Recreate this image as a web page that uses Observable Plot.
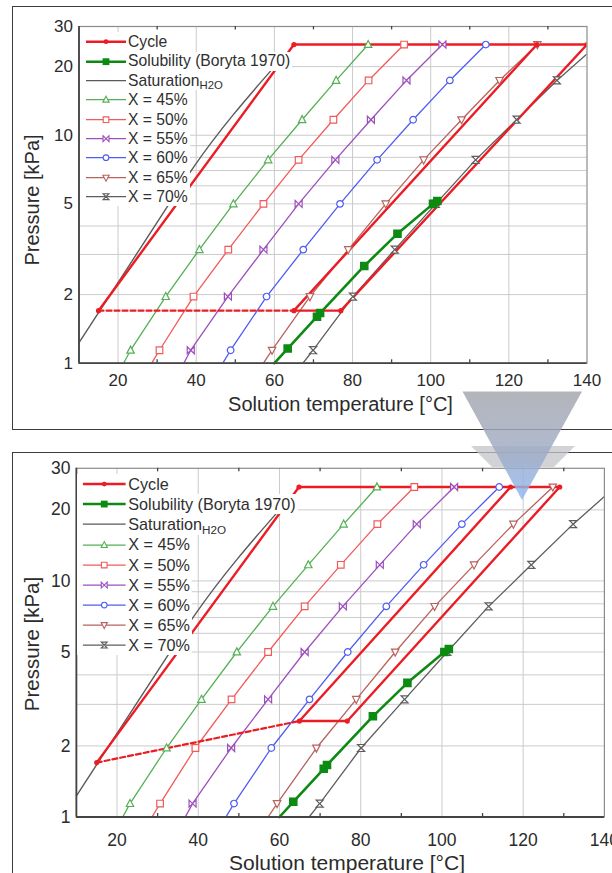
<!DOCTYPE html>
<html>
<head>
<meta charset="utf-8">
<script src="https://cdn.jsdelivr.net/npm/d3@7"></script>
<script src="https://cdn.jsdelivr.net/npm/@observablehq/plot@0.6"></script>
<style>
  body { margin: 0; background: #fff; font-family: "Liberation Sans", Arial, sans-serif; }
  #page { position: relative; width: 612px; height: 873px; overflow: hidden; background: #fff; }
  .box { position: absolute; border: 1.5px solid #3c3c3c; }
  .panel { position: absolute; left: 0; }
  .title { position: absolute; color: #2b2b2b; white-space: nowrap; line-height: 1; }
  .row { position: absolute; display: flex; align-items: center; background: #fff; color: #2f2f2f; white-space: nowrap; line-height: 1; padding-right: 2px; }
  .row svg { display: block; flex: none; }
  .row sub { font-size: 0.72em; position: relative; top: 0.3em; vertical-align: baseline; }
</style>
</head>
<body>
<div id="page">
  <div class="box" style="left:12px;top:6px;width:640px;height:422px"></div>
  <div class="box" style="left:12px;top:452px;width:640px;height:460px"></div>
</div>
<script>
// ---- axes ----
const xDomain = [10, 140];
const yDomain = [1, 30];
const xTicks = [20, 40, 60, 80, 100, 120, 140];
const xGrid = [20, 40, 60, 80, 100, 120];
const xMinor = [30, 50, 70, 90, 110, 130];
const yTicks = [1, 2, 5, 10, 20, 30];
const yGrid = [2, 3, 4, 5, 6, 7, 8, 9, 10, 20];

// ---- iso-concentration lines (pressure in kPa, solution temperature in °C) ----
const pressureLevels = [1.14, 1.96, 3.15, 5.0, 7.8, 11.7, 17.4, 25];
const seriesNames = ["X = 45%", "X = 50%", "X = 55%", "X = 60%", "X = 65%", "X = 70%"];
const seriesColors = ["#55b055", "#f25a5a", "#9d4fbd", "#4f5cf2", "#b8625e", "#5e5e5e"];
const temp45 = [23.2, 32.2, 40.8, 49.5, 58.4, 67.1, 75.8, 84.0];
const temp50 = [30.6, 39.3, 48.2, 57.2, 66.2, 75.1, 84.1, 93.2];
const temp55 = [38.6, 48.1, 57.2, 66.2, 75.6, 84.7, 93.8, 103.0];
const temp60 = [48.8, 58.0, 67.4, 76.8, 86.3, 95.5, 104.9, 114.1];
const temp65 = [59.4, 69.1, 78.9, 88.5, 98.2, 107.9, 117.6, 127.3];
const temp70 = [69.9, 80.1, 90.8, 101.3, 111.5, 122.0, 132.3, 142.7];
const seriesTemps = [temp45, temp50, temp55, temp60, temp65, temp70];
// temperature of each line at 1 kPa
const tempAt1kPa = [21.4, 28.6, 36.8, 46.8, 57.2, 67.3];

// ---- solubility limit (Boryta 1970) ----
const solubilityT = [60.0, 63.4, 70.9, 71.7, 83.0, 91.5, 100.6, 101.7];
const solubilityP = [1.0, 1.16, 1.6, 1.66, 2.67, 3.7, 5.0, 5.15];

// ---- water saturation ----
const saturationT = [10, 32.4, 39.2, 60];
const saturationP = [1.23, 4.8, 7.2, 20];

// ---- cycles: evaporator → condenser → generator → absorber ----
const cycleUpperT = [15, 65, 140, 77, 65, 127.2];
const cycleUpperP = [1.7, 25, 25, 1.7, 1.7, 25];
const flashUpperT = [15, 65];
const flashUpperP = [1.7, 1.7];
const cycleLowerT = [15, 64.8, 129, 76.7, 64.9, 116.9];
const cycleLowerP = [1.7, 25, 25, 2.55, 2.55, 25];
const flashLowerT = [15, 64.9];
const flashLowerP = [1.7, 2.55];

const RED = "#ec1c24";
const GREEN = "#0d8a12";
const GRAY = "#5a5a5a";

// ---- marker shapes ----
const rad = size => Math.sqrt(size / Math.PI);
const triUp = { draw(c, s) { const r = rad(s); c.moveTo(0, -r * 1.05); c.lineTo(r * 0.95, r * 0.75); c.lineTo(-r * 0.95, r * 0.75); c.closePath(); } };
const triDown = { draw(c, s) { const r = rad(s); c.moveTo(0, r * 1.05); c.lineTo(r * 0.95, -r * 0.75); c.lineTo(-r * 0.95, -r * 0.75); c.closePath(); } };
const box = { draw(c, s) { const r = rad(s) * 0.85; c.rect(-r, -r, 2 * r, 2 * r); } };
const ring = { draw(c, s) { const r = rad(s) * 0.85; c.moveTo(r, 0); c.arc(0, 0, r, 0, 2 * Math.PI); } };
const bowtie = { draw(c, s) { const r = rad(s) * 0.9; c.moveTo(-r, -r); c.lineTo(r, r); c.lineTo(r, -r); c.lineTo(-r, r); c.closePath(); } };
const hourglass = { draw(c, s) { const r = rad(s) * 0.9; c.moveTo(-r, -r); c.lineTo(r, -r); c.lineTo(-r, r); c.lineTo(r, r); c.closePath(); } };
const seriesSymbols = [triUp, box, bowtie, ring, triDown, hourglass];

const zip = (T, P) => T.map((t, i) => ({ T: t, P: P[i] }));

function drawPanel(cfg) {
  const marks = [
    Plot.ruleX(xGrid, { stroke: "#cbcbcb", strokeWidth: 1 }),
    Plot.ruleY(yGrid, { stroke: "#cbcbcb", strokeWidth: 1 })
  ];
  seriesTemps.forEach((temps, i) => {
    const pts = [{ T: tempAt1kPa[i], P: 1 }, ...zip(temps, pressureLevels)];
    marks.push(Plot.line(pts, { x: "T", y: "P", stroke: seriesColors[i], strokeWidth: 1.3, clip: true }));
  });
  marks.push(Plot.line(zip(saturationT, saturationP), { x: "T", y: "P", stroke: GRAY, strokeWidth: 1.4, curve: "monotone-x" }));
  marks.push(Plot.line(zip(solubilityT, solubilityP), { x: "T", y: "P", stroke: GREEN, strokeWidth: 2.6 }));
  marks.push(Plot.line(zip(cfg.flashT, cfg.flashP), { x: "T", y: "P", stroke: RED, strokeWidth: 2.2, strokeDasharray: "5,3" }));
  marks.push(Plot.line(zip(cfg.cycleT, cfg.cycleP), { x: "T", y: "P", stroke: RED, strokeWidth: 2.4, clip: true }));
  seriesTemps.forEach((temps, i) => {
    marks.push(Plot.dot(zip(temps, pressureLevels), {
      x: "T", y: "P", symbol: seriesSymbols[i], r: 3.9,
      stroke: seriesColors[i], fill: "white", strokeWidth: 1.2, clip: true
    }));
  });
  marks.push(Plot.dot(zip(solubilityT, solubilityP).slice(1), { x: "T", y: "P", symbol: "square", r: 4, fill: GREEN, stroke: GREEN }));
  marks.push(Plot.dot(zip(cfg.cycleT, cfg.cycleP), { x: "T", y: "P", r: 2.6, fill: RED, clip: true }));
  marks.push(Plot.frame({ stroke: "#8c8c8c", strokeWidth: 1.2 }));
  marks.push(Plot.ruleY([1], { stroke: "#444", strokeWidth: 1.8 }));
  marks.push(Plot.ruleX([10], { stroke: "#444", strokeWidth: 1.8 }));
  marks.push(Plot.ruleX(xMinor, { y1: 1, y2: 1.035, stroke: "#444", strokeWidth: 1.3 }));
  marks.push(Plot.ruleX(xMinor, { y1: 30 / 1.035, y2: 30, stroke: "#444", strokeWidth: 1.3 }));
  marks.push(Plot.axisX(xTicks, { tickSize: 0, tickPadding: cfg.padX, fontSize: cfg.tickFont, label: null }));
  marks.push(Plot.axisY(yTicks, { tickSize: 0, tickPadding: 6, fontSize: cfg.tickFont, label: null, tickFormat: d => String(d) }));

  const svg = Plot.plot({
    width: 612,
    height: cfg.height,
    marginTop: cfg.mt, marginBottom: cfg.mb, marginLeft: cfg.ml, marginRight: cfg.mr,
    x: { domain: xDomain, label: null },
    y: { type: "log", domain: yDomain, label: null },
    style: { fontFamily: "'Liberation Sans', Arial, sans-serif", color: "#2b2b2b", background: "transparent", overflow: "visible" },
    marks
  });
  svg.classList.add("panel");
  svg.style.top = cfg.top + "px";
  return svg;
}

const legendLabels = ["Cycle", "Solubility (Boryta 1970)", "Saturation", ...seriesNames];
const legendColors = [RED, GREEN, GRAY, ...seriesColors];
const legendSymbols = ["dot", "square", null, ...seriesSymbols];

function drawLegend(page, cfg) {
  legendLabels.forEach((label, i) => {
    const row = document.createElement("div");
    row.className = "row";
    const cy = cfg.firstRow + i * cfg.rowH;
    row.style.left = cfg.left + "px";
    row.style.top = (cy - cfg.rowH / 2) + "px";
    row.style.height = cfg.rowH + "px";
    row.style.fontSize = cfg.font + "px";
    const w = cfg.textX - cfg.left;
    const svg = d3.create("svg").attr("width", w).attr("height", cfg.rowH);
    const mid = cfg.rowH / 2;
    const thick = i < 2;
    svg.append("line")
      .attr("x1", cfg.x0 - cfg.left).attr("x2", cfg.x1 - cfg.left)
      .attr("y1", mid).attr("y2", mid)
      .attr("stroke", legendColors[i]).attr("stroke-width", thick ? 2.6 : 1.3);
    const mx = (cfg.x0 + cfg.x1) / 2 - cfg.left;
    const s = legendSymbols[i];
    if (s === "dot") {
      svg.append("circle").attr("cx", mx).attr("cy", mid).attr("r", 2.4).attr("fill", legendColors[i]);
    } else if (s === "square") {
      svg.append("rect").attr("x", mx - 3.4).attr("y", mid - 3.4).attr("width", 6.8).attr("height", 6.8).attr("fill", legendColors[i]);
    } else if (s) {
      svg.append("path")
        .attr("transform", `translate(${mx},${mid})`)
        .attr("d", d3.symbol().type(s).size(Math.PI * 3.3 * 3.3)())
        .attr("fill", "white").attr("stroke", legendColors[i]).attr("stroke-width", 1.1);
    }
    row.appendChild(svg.node());
    const span = document.createElement("span");
    if (label === "Saturation") {
      span.innerHTML = "Saturation<sub>H2O</sub>";
    } else {
      span.textContent = label;
    }
    row.appendChild(span);
    page.appendChild(row);
  });
}

function addTitle(page, text, css) {
  const d = document.createElement("div");
  d.className = "title";
  d.textContent = text;
  Object.assign(d.style, css);
  page.appendChild(d);
}

const page = document.getElementById("page");

// upper panel
page.appendChild(drawPanel({
  top: 0, height: 400, mt: 26, mb: 37.3, ml: 78.5, mr: 25.5,
  tickFont: 17, padX: 10.5,
  cycleT: cycleUpperT, cycleP: cycleUpperP, flashT: flashUpperT, flashP: flashUpperP
}));
drawLegend(page, { left: 80, firstRow: 42, rowH: 19.35, font: 15.7, x0: 86, x1: 126, textX: 128 });
addTitle(page, "Solution temperature [°C]", { left: "340.5px", top: "393.8px", fontSize: "20px", transform: "translateX(-50%)" });
addTitle(page, "Pressure [kPa]", { left: "32px", top: "200px", fontSize: "20px", transform: "translate(-50%,-50%) rotate(-90deg)" });

// lower panel
page.appendChild(drawPanel({
  top: 440, height: 433, mt: 27.8, mb: 56.5, ml: 75.9, mr: 8.1,
  tickFont: 17.5, padX: 16.5,
  cycleT: cycleLowerT, cycleP: cycleLowerP, flashT: flashLowerT, flashP: flashLowerP
}));
drawLegend(page, { left: 77.4, firstRow: 484.3, rowH: 20.1, font: 16.2, x0: 83.3, x1: 126, textX: 128.3 });
addTitle(page, "Solution temperature [°C]", { left: "347px", top: "851.5px", fontSize: "21px", transform: "translateX(-50%)" });
addTitle(page, "Pressure [kPa]", { left: "31.5px", top: "644px", fontSize: "20.5px", transform: "translate(-50%,-50%) rotate(-90deg)" });

// transition arrow between the two diagrams
const arrow = d3.create("svg")
  .attr("width", 612).attr("height", 873)
  .style("position", "absolute").style("left", 0).style("top", 0).style("pointer-events", "none");
const grad = arrow.append("defs").append("linearGradient")
  .attr("id", "arrowFill").attr("x1", 0).attr("y1", 0).attr("x2", 0).attr("y2", 1);
grad.append("stop").attr("offset", 0).attr("stop-color", "#a3a5ac");
grad.append("stop").attr("offset", 0.55).attr("stop-color", "#9eaac4");
grad.append("stop").attr("offset", 1).attr("stop-color", "#8db6f0");
arrow.append("polygon").attr("points", "471,446 575,446 554,467 492,467").attr("fill", "#c2c4ca").attr("opacity", 0.75);
arrow.append("polygon").attr("points", "462.5,391.5 582,391.5 522,500").attr("fill", "url(#arrowFill)").attr("opacity", 0.82);
page.appendChild(arrow.node());
</script>
</body>
</html>
